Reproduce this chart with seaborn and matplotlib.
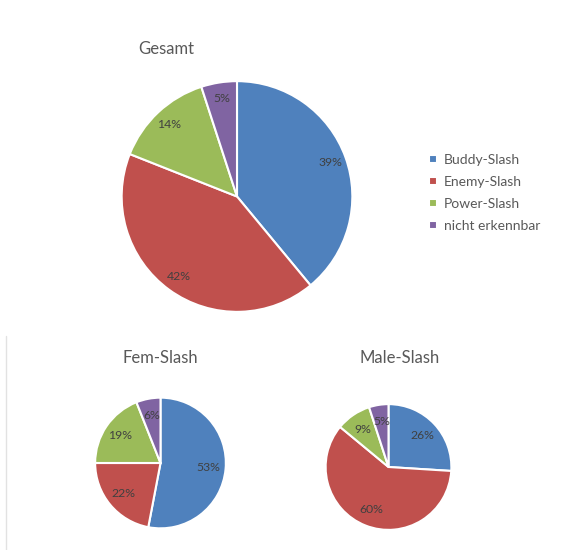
import matplotlib
matplotlib.use("Agg")
import matplotlib.pyplot as plt
from matplotlib.lines import Line2D
import seaborn as sns

categories = ["Buddy-Slash", "Enemy-Slash", "Power-Slash", "nicht erkennbar"]
gesamt = [39, 42, 14, 5]
fem_slash = [53, 22, 19, 6]
male_slash = [26, 60, 9, 5]
titles = ["Gesamt", "Fem-Slash", "Male-Slash"]

sns.set_theme(style="white")
plt.rcParams["font.family"] = ["Lato", "DejaVu Sans"]
palette = sns.color_palette(["#4F81BD", "#C0504D", "#9BBB59", "#8064A2"])

W, H = 579, 550
fig = plt.figure(figsize=(W / 100, H / 100), dpi=100)
fig.patch.set_facecolor("white")


def px_axes(cx, cy, r):
    """Square axes centred at pixel (cx, cy) with pixel radius r."""
    return fig.add_axes([(cx - r) / W, (H - cy - r) / H, 2 * r / W, 2 * r / H])


def draw_pie(ax, values, pctdist):
    wedges, _, autotexts = ax.pie(
        values,
        colors=palette,
        startangle=90,
        counterclock=False,
        radius=1.0,
        autopct=lambda p: f"{p:.0f}%",
        pctdistance=pctdist,
        wedgeprops=dict(edgecolor="white", linewidth=1.5),
        textprops=dict(color="#404040", fontsize=8.8),
    )
    ax.set_xlim(-1.01, 1.01)
    ax.set_ylim(-1.01, 1.01)
    ax.set_aspect("equal")
    ax.axis("off")
    return wedges


ax_g = px_axes(237, 196.5, 116.5)
wedges = draw_pie(ax_g, gesamt, 0.86)

ax_f = px_axes(160.5, 463, 66)
draw_pie(ax_f, fem_slash, 0.74)

ax_m = px_axes(388.5, 467, 63.5)
draw_pie(ax_m, male_slash, 0.73)

title_kw = dict(color="#595959", fontsize=12, ha="center", va="center")
fig.text(166 / W, 1 - 49 / H, titles[0], **title_kw)
fig.text(160.5 / W, 1 - 358 / H, titles[1], **title_kw)
fig.text(400 / W, 1 - 358 / H, titles[2], **title_kw)

leg = fig.legend(
    wedges, categories,
    loc="upper left",
    bbox_to_anchor=(422 / W, 1 - 147 / H),
    frameon=False,
    fontsize=10,
    handlelength=0.6,
    handleheight=0.6,
    handletextpad=0.5,
    labelspacing=0.72,
    borderpad=0,
)
for t in leg.get_texts():
    t.set_color("#595959")

# faint frame edge along the lower panel
fig.add_artist(Line2D([5.5 / W, 5.5 / W], [0, 1 - 336 / H],
                      transform=fig.transFigure, color="#e2e2e2", linewidth=1))

fig.savefig("out.png", dpi=100, facecolor="white")
